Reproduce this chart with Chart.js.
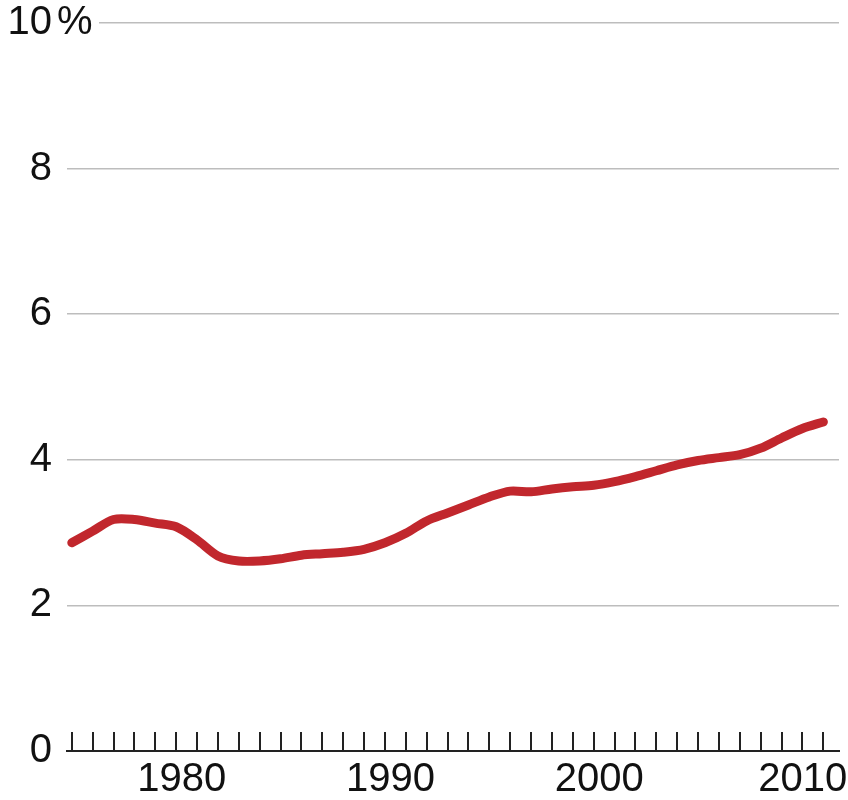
<!DOCTYPE html>
<html>
<head>
<meta charset="utf-8">
<script src="https://cdn.jsdelivr.net/npm/chart.js@4"></script>
<style>
  body { margin: 0; background: #fff; }
</style>
</head>
<body>
<canvas id="chart" width="848" height="800"></canvas>
<script>
// data
var years = [1975, 1976, 1977, 1978, 1979, 1980, 1981, 1982, 1983, 1984,
             1985, 1986, 1987, 1988, 1989, 1990, 1991, 1992, 1993, 1994,
             1995, 1996, 1997, 1998, 1999, 2000, 2001, 2002, 2003, 2004,
             2005, 2006, 2007, 2008, 2009, 2010, 2011];
var share = [2.86, 3.02, 3.18, 3.18, 3.13, 3.08, 2.90, 2.68, 2.61, 2.61,
             2.64, 2.69, 2.71, 2.73, 2.77, 2.86, 2.99, 3.16, 3.27, 3.38,
             3.49, 3.57, 3.56, 3.60, 3.63, 3.65, 3.70, 3.77, 3.85, 3.93,
             3.99, 4.03, 4.07, 4.16, 4.30, 4.43, 4.52];
var yearLabels = [1980, 1990, 2000, 2010];
var yTicks = [0, 2, 4, 6, 8, 10];

var FONT = "'Liberation Sans Narrow', 'Liberation Sans', sans-serif";
var FONT_SIZE = 40;
var LABEL_SHIFT = 0.27;   // labels sit inside the year, not on the tick
var myLineChart;

// draws the "%" after the top label and cuts the grid line under it
var percentPlugin = {
  id: 'percent',
  afterDraw: function(chart) {
    var ctx = chart.ctx;
    var y = chart.scales.y;
    var py = y.getPixelForValue(10);
    var x0 = y.right - y.options.ticks.padding;
    ctx.save();
    ctx.fillStyle = '#fff';
    ctx.fillRect(x0 + 1, py - 3, 46, 6);
    ctx.font = FONT_SIZE + 'px ' + FONT;
    ctx.fillStyle = '#111';
    ctx.textAlign = 'left';
    ctx.textBaseline = 'middle';
    ctx.fillText('%', x0 + 5, py);
    ctx.restore();
  }
};

window.onload = function() {
  var points = [];
  for (var i = 0; i < years.length; i++) {
    points.push({ x: years[i], y: share[i] });
  }

  var ctx = document.getElementById('chart').getContext('2d');
  myLineChart = new Chart(ctx, {
    type: 'line',
    data: {
      datasets: [{
        data: points,
        borderColor: '#c1272d',
        borderWidth: 9,
        borderCapStyle: 'round',
        borderJoinStyle: 'round',
        tension: 0.3,
        pointRadius: 0,
        fill: false
      }]
    },
    options: {
      responsive: false,
      animation: false,
      layout: { padding: { top: 0, right: 9, left: 0, bottom: 0 } },
      plugins: {
        legend: { display: false },
        tooltip: { enabled: false }
      },
      scales: {
        x: {
          type: 'linear',
          min: 1974.77,
          max: 2011.75,
          afterBuildTicks: function(axis) {
            var t = [];
            for (var k = years[0]; k <= years[years.length - 1]; k++) t.push({ value: k, mark: true });
            yearLabels.forEach(function(yr, j) {
              // the last label is pulled back so it fits on the page
              var pos = (j === yearLabels.length - 1) ? yr + 0.01 : yr + LABEL_SHIFT;
              t.push({ value: pos, lbl: String(yr) });
            });
            t.sort(function(a, b) { return a.value - b.value; });
            axis.ticks = t;
          },
          afterFit: function(axis) { axis.height = 49; },
          border: { display: true, color: '#222', width: 2 },
          grid: {
            drawOnChartArea: false,
            drawTicks: true,
            tickLength: -19,
            lineWidth: 2,
            color: function(c) {
              return (c.tick && c.tick.mark) ? '#222' : 'rgba(0,0,0,0)';
            }
          },
          ticks: {
            autoSkip: false,
            maxRotation: 0,
            padding: 24,
            color: '#111',
            font: { family: FONT, size: FONT_SIZE },
            callback: function(value, index, ticks) {
              return ticks[index].lbl || '';
            }
          }
        },
        y: {
          min: 0,
          max: 10,
          afterBuildTicks: function(axis) {
            axis.ticks = yTicks.map(function(v) { return { value: v }; });
          },
          afterFit: function(axis) { axis.width = 67; },
          border: { display: false },
          grid: {
            drawTicks: false,
            color: '#bdbdbd',
            lineWidth: 1.5
          },
          ticks: {
            padding: 15,
            color: '#111',
            font: { family: FONT, size: FONT_SIZE, lineHeight: 0.4 },
            callback: function(value) { return String(value); }
          }
        }
      }
    },
    plugins: [percentPlugin]
  });
};
</script>
</body>
</html>
